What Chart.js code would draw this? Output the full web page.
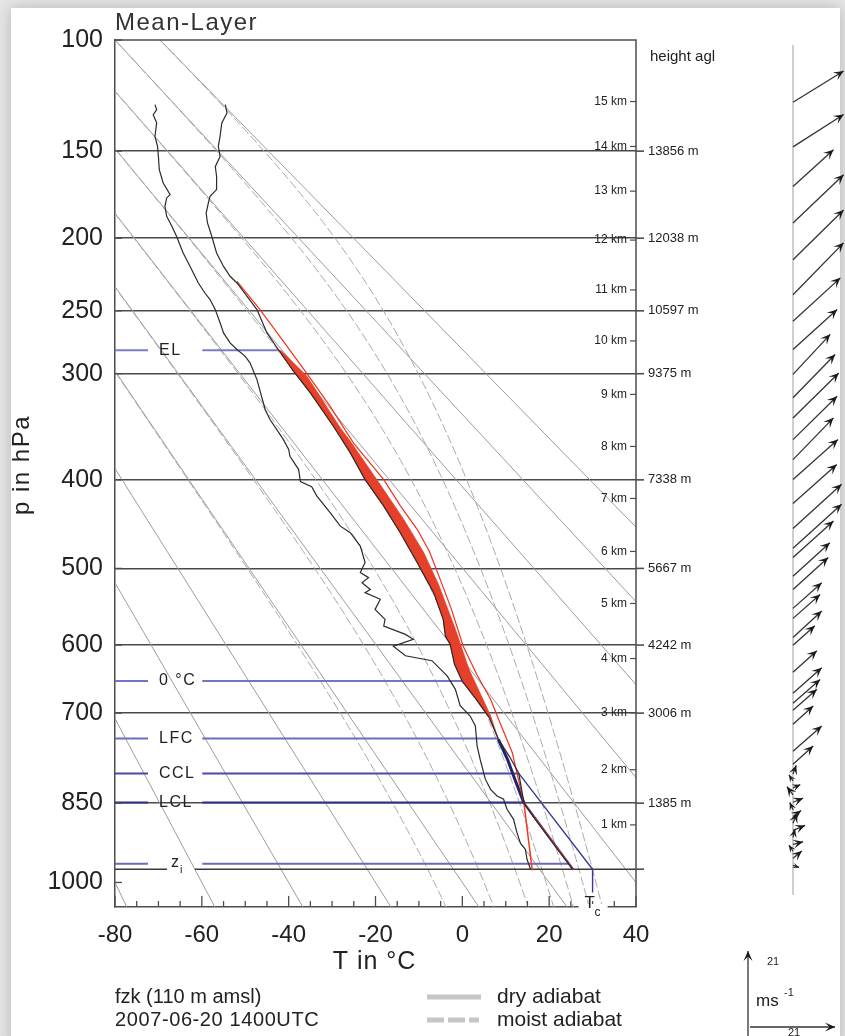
<!DOCTYPE html>
<html lang="en">
<head>
<meta charset="UTF-8">
<title>Mean-Layer fzk 2007-06-20 1400 UTC</title>
<script src="https://cdn.jsdelivr.net/npm/chart.js"></script>
<style>
    html, body { margin: 0; padding: 0; background: #e6e6e6; overflow: hidden; }
    .sheet {
        position: absolute; left: 11px; top: 8px; width: 829px; height: 1040px;
        background: #fff; box-shadow: 0 0 14px rgba(0, 0, 0, 0.22);
    }
    #stueve { position: absolute; left: 0; top: 0; }
</style>
</head>
<body>
<div class="sheet"></div>
<canvas id="stueve" width="845" height="1036"></canvas>
<script>
    const KAPPA = 0.286;

    // axes
    const pressureTicks = [100, 150, 200, 250, 300, 400, 500, 600, 700, 850, 1000];
    const tempMin = -80, tempMax = 40, pTop = 100, pBottom = 1050;

    // background: dry adiabats and pseudo-adiabats, labelled by theta at 100 hPa (°C)
    const dryTheta = [-80, -60, -40, -20, 0, 20, 40, 60, 80, 100, 120];
    const moistTheta = [0, 20, 40, 60, 80, 100, 120];

    // sounding: temperature
    const envP = [127.3, 131.2, 135.9, 142.5, 147.5, 152.8, 158.2, 163.4, 170.8, 174.7, 178.5, 184.5, 190.5, 198.9, 209.5,
        218.5, 225.2, 229.9, 249.1, 266.8, 280.0, 297.9, 316.6, 346.9, 372.6, 399.7, 428.1, 457.8, 492.9, 530.2,
        565.0, 587.6, 599, 627, 652, 679, 707, 741.5, 769, 798, 850, 879.2, 911.6, 942.7, 973.7];
    const envT = [-54.6, -54.2, -55.4, -55.8, -56.2, -55.8, -56.9, -56.6, -56.6, -58.1, -58.5, -59.0, -58.7, -57.7, -56.6,
        -55.0, -53.5, -51.9, -47.3, -45.0, -42.4, -38.9, -35.0, -29.7, -25.8, -22.4, -18.1, -14.3, -10.4, -6.6,
        -4.4, -3.9, -2.8, -1.8, 0.0, 3.2, 6.2, 8.3, 10.8, 13.0, 14.2, 16.8, 19.8, 22.6, 25.4];

    // sounding: dew point
    const dewP = [127.3, 129.6, 132.0, 135.9, 142.5, 147.5, 152.8, 159.8, 167.1, 173.7, 175.6, 180.5, 186.5, 192.5, 198.9,
        209.5, 218.5, 229.9, 237.0, 241.7, 249.1, 259.0, 266.8, 274.7, 280.0, 285.5, 290.9, 305.0, 331.6, 340.7,
        359.7, 369.3, 376.0, 389.4, 401.8, 407.1, 417.2, 435.4, 450.3, 457.8, 473.2, 492.9, 505.1, 511.4, 517.7,
        526.2, 530.2, 538.7, 551.8, 565.0, 573.9, 585.3, 592.1, 601.7, 615.0, 622.0, 644.0, 663.8, 688.7, 704.5,
        720.1, 752.2, 774.3, 808.0, 825.6, 837.2, 843.0, 861.0, 879.2, 904.3, 923.9, 935.0, 954.4, 973.7];
    const dewT = [-70.8, -70.4, -71.2, -70.4, -70.8, -70.2, -70.0, -69.8, -68.9, -67.3, -68.1, -68.5, -68.1, -66.9, -65.8,
        -64.3, -62.7, -60.8, -59.3, -58.1, -56.9, -55.8, -55.0, -53.5, -51.9, -50.0, -48.9, -47.3, -45.4, -44.3,
        -41.2, -40.0, -39.7, -37.7, -37.3, -34.7, -33.5, -30.4, -28.1, -25.8, -23.5, -22.4, -23.5, -21.6, -23.1,
        -21.2, -22.4, -18.9, -20.1, -17.8, -18.1, -13.1, -11.3, -15.9, -13.1, -7.0, -3.5, -1.6, -0.5, 1.8,
        3.0, 3.4, 4.1, 5.3, 6.5, 8.0, 9.5, 10.3, 11.8, 12.6, 13.4, 14.5, 14.9, 15.7];

    // mean-layer parcel between EL and LFC (edge of the CAPE area)
    const parcelP = [280.0, 281.4, 302.1, 348.5, 361.3, 405.1, 442.8, 481.0, 519.8, 578.4, 634.0, 704.2, 741.5];
    const parcelT = [-42.4, -41.6, -35.8, -28.1, -25.8, -18.9, -13.5, -8.9, -5.5, -1.6, 1.5, 6.5, 8.3];

    // thin parcel curve from LCL upwards
    const ascentP = [228.8, 249.1, 272.1, 297.9, 328.8, 362.8, 399.7, 427.4, 453.9, 479.4, 513.5, 551.8, 601.7, 641.5,
        678.7, 720.6, 763.1, 808.0, 850];
    const ascentT = [-51.9, -46.6, -41.5, -36.2, -30.4, -25.1, -18.1, -14.3, -10.4, -7.6, -5.1, -2.5, 0.2, 3.3,
        6.5, 9.0, 11.5, 12.9, 14.2];

    // boundary layer construction lines
    const dryLclP = [850, 975], dryLclT = [14.2, 25.6];
    const mixLclP = [850, 976], mixLclT = [14.2, 16.1];
    const lfcLclP = [741.5, 774.3, 810.2, 850], lfcLclT = [8.3, 10.4, 12.2, 14.2];
    const cclP = [798.2, 973.7, 1020], cclT = [13.0, 30.0, 30.0];

    // levels
    const levelNames = ['EL', '0 °C', 'LFC', 'CCL', 'LCL', 'z_i'];
    const levelP = [280.5, 651.5, 740.4, 798.2, 849, 962.8];
    const levelEndT = [-42.4, 0.7, 8.3, 13.0, 14.2, 24.4];
    const surfaceP = 973.7;

    // heights above ground
    const kmLabels = [1, 2, 3, 4, 5, 6, 7, 8, 9, 10, 11, 12, 13, 14, 15];
    const kmP = [889.4, 791.9, 699.6, 618.9, 544.1, 479.6, 419.7, 366.3, 317.9, 273.1, 234.8, 201.2, 171.7, 147.6, 125.9];
    const stdP = [850, 700, 600, 500, 400, 300, 250, 200, 150];
    const stdHeight = [1385, 3006, 4242, 5667, 7338, 9375, 10597, 12038, 13856];

    // wind (m/s, u eastward, v northward)
    const windP = [126.2, 147.8, 169.1, 190.5, 214.0, 238.2, 257.8, 280.0, 300.6, 320.9, 339.2, 359.7, 379.3, 399.7, 425.1,
        452.9, 475.9, 486.7, 509.7, 526.1, 550.5, 563.7, 589.4, 600.3, 638.6, 669.8, 684.9, 695.7, 717.4, 760.9,
        782.7, 799.4, 811.1, 823.1, 835.2, 848.4, 861.7, 874.3, 886.4, 899.4, 912.5, 925.6, 938.9, 952.5, 966.2];
    const windU = [12.5, 12.5, 10.0, 12.5, 12.5, 12.5, 11.7, 10.9, 9.2, 10.4, 11.3, 10.9, 10.0, 11.1, 10.8,
        12.0, 12.0, 10.0, 9.1, 8.7, 7.1, 6.7, 7.1, 5.4, 5.9, 7.1, 6.7, 5.9, 5.0, 7.1,
        5.0, 0.8, -1.0, 1.8, -1.5, 2.5, -0.8, 2.0, 1.0, 3.0, 0.5, 2.5, -1.0, 2.2, 1.5];
    const windV = [7.7, 8.0, 9.1, 11.9, 12.3, 12.8, 10.7, 9.9, 9.9, 10.7, 11.1, 10.7, 10.3, 9.9, 9.6,
        10.9, 10.9, 9.0, 8.3, 7.9, 6.3, 5.9, 6.5, 4.8, 5.3, 6.3, 5.9, 5.2, 4.5, 6.2,
        4.5, 2.2, 1.5, 0.8, 2.0, 1.0, 1.8, 1.5, 2.5, 1.2, 2.0, 0.6, 1.5, 1.8, -0.5];
    const windRef = 21;

    // drawing constants
    const FONT = "'Liberation Sans', Arial, sans-serif";
    const GREY = '#9c9c9c';
    const FRAME = '#4d4d4d';
    const WIND_X = 793, PX_PER_MS = 4.05;
    const LABEL_GAP = [-72.4, -59.9];   // hole in the level lines for their names
    const ZI_GAP = [-68.0, -61.6];

    // pressure axis linear in p^kappa (Stüve)
    class PressureScale extends Chart.LinearScale {
        static id = 'pressure';
        static defaults = {};
        configure() {
            super.configure();
            this._startValue = Math.pow(this.min, KAPPA);
            this._valueRange = Math.pow(this.max, KAPPA) - this._startValue;
        }
        buildTicks() {
            return pressureTicks.map(v => ({ value: v }));
        }
        getPixelForValue(value) {
            if (value === null || value === undefined || isNaN(value)) return NaN;
            return this.getPixelForDecimal((Math.pow(value, KAPPA) - this._startValue) / this._valueRange);
        }
        getValueForPixel(pixel) {
            const d = this.getDecimalForPixel(pixel);
            return Math.pow(this._startValue + d * this._valueRange, 1 / KAPPA);
        }
    }
    Chart.register(PressureScale);

    const pts = (T, P) => T.map((t, i) => ({ x: t, y: P[i] }));

    // horizontal line with a gap for a label
    function gapLine(p, t0, t1, gap) {
        return [{ x: t0, y: p }, { x: gap[0], y: p }, { x: null, y: null }, { x: gap[1], y: p }, { x: t1, y: p }];
    }

    function dryAdiabat(thetaC) {
        return [pTop, pBottom].map(p => ({ x: (thetaC + 273.15) * Math.pow(p / 1000, KAPPA) - 273.15, y: p }));
    }

    const RD = 287.04, CP = 1005.7, LV = 2.501e6, EPS = 0.622;
    function dTdp(p, T) {
        const es = 6.112 * Math.exp(17.67 * (T - 273.15) / (T - 29.65));
        const rs = EPS * es / (p - es);
        return (RD * T + LV * rs) / (p * (CP + LV * LV * rs * EPS / (RD * T * T)));
    }
    function moistAdiabat(thetaC) {
        let p = pTop, T = (thetaC + 273.15) * Math.pow(p / 1000, KAPPA);
        const out = [{ x: T - 273.15, y: p }];
        const dp = 2;
        while (p < pBottom) {
            const k1 = dTdp(p, T);
            const k2 = dTdp(p + dp / 2, T + k1 * dp / 2);
            T += k2 * dp;
            p += dp;
            if (p % 10 === 0) out.push({ x: T - 273.15, y: p });
        }
        return out;
    }

    const lineDs = (data, color, width, extra) => Object.assign({
        data, borderColor: color, borderWidth: width, pointRadius: 0, fill: false, tension: 0, spanGaps: false
    }, extra || {});

    const datasets = [];
    dryTheta.forEach(th => datasets.push(lineDs(dryAdiabat(th), GREY, 1, { order: 90 })));
    moistTheta.forEach(th => datasets.push(lineDs(moistAdiabat(th), '#a9a9a9', 1, { order: 89, borderDash: [9, 3] })));

    const levelColors = ['#7b7bc6', '#7474c2', '#6c6cbd', '#4a4aa8', '#2e2e8c', '#6a6abc'];
    levelNames.forEach((n, i) => {
        datasets.push(lineDs(gapLine(levelP[i], tempMin, levelEndT[i], LABEL_GAP), levelColors[i], 2, { order: 60 }));
    });
    datasets.push(lineDs(gapLine(surfaceP, tempMin, tempMax, ZI_GAP), '#3a3a3a', 1.6, { order: 59 }));

    // CAPE area: environment from EL down to LFC, parcel back up
    const envSeg = pts(envT, envP).filter(d => d.y >= parcelP[0] && d.y <= parcelP[parcelP.length - 1]);
    const cape = envSeg.concat(pts(parcelT, parcelP).reverse());
    datasets.push(lineDs(cape, '#e6402b', 0.8, { order: 30, fill: 'shape', backgroundColor: '#e6402b' }));

    datasets.push(lineDs(pts(dryLclT, dryLclP), '#2a2a82', 2.2, { order: 40 }));
    datasets.push(lineDs(pts(cclT, cclP), '#3a3a96', 1.4, { order: 40 }));
    datasets.push(lineDs(pts(lfcLclT, lfcLclP), '#22226e', 3, { order: 25 }));
    datasets.push(lineDs(pts(ascentT, ascentP), '#f2301c', 1.2, { order: 20 }));
    datasets.push(lineDs(pts(dryLclT, dryLclP), '#ee3a22', 1.2, { order: 19 }));
    datasets.push(lineDs(pts(mixLclT, mixLclP), '#ee3a22', 1.5, { order: 19 }));
    datasets.push(lineDs(pts(dewT, dewP), '#2b2b2b', 1.2, { order: 10 }));
    datasets.push(lineDs(pts(envT, envP), '#2b2b2b', 1.2, { order: 9 }));

    function txt(ctx, s, x, y, size, align, color, spacing, base) {
        ctx.font = size + 'px ' + FONT;
        ctx.textAlign = align || 'left';
        ctx.textBaseline = base || 'middle';
        ctx.fillStyle = color || '#222';
        ctx.letterSpacing = spacing || '0px';
        ctx.fillText(s, x, y);
        ctx.letterSpacing = '0px';
    }

    function arrow(ctx, x0, y0, x1, y1, head) {
        const len = Math.hypot(x1 - x0, y1 - y0);
        if (len < 0.5) return;
        const a = Math.atan2(y1 - y0, x1 - x0), c = Math.cos(a), s = Math.sin(a);
        const h = Math.min(head, len);
        ctx.beginPath(); ctx.moveTo(x0, y0); ctx.lineTo(x1, y1); ctx.stroke();
        ctx.beginPath();
        ctx.moveTo(x1, y1);
        ctx.lineTo(x1 - h * c + h * 0.45 * s, y1 - h * s - h * 0.45 * c);
        ctx.lineTo(x1 - h * 0.55 * c, y1 - h * 0.55 * s);
        ctx.lineTo(x1 - h * c - h * 0.45 * s, y1 - h * s + h * 0.45 * c);
        ctx.closePath(); ctx.fill();
    }

    const decor = {
        id: 'stueveDecor',
        afterDraw(chart) {
            const { ctx, chartArea: a, scales: { x, y } } = chart;
            ctx.save();
            ctx.strokeStyle = FRAME;
            ctx.lineWidth = 1.5;
            ctx.beginPath();
            ctx.moveTo(a.left, a.top); ctx.lineTo(a.right, a.top); ctx.lineTo(a.right, a.bottom);
            ctx.stroke();

            // temperature ticks pointing inwards
            ctx.lineWidth = 1.3;
            for (let t = tempMin; t <= tempMax; t += 5) {
                const px = x.getPixelForValue(t), len = t % 20 === 0 ? 11 : 6;
                ctx.beginPath(); ctx.moveTo(px, a.bottom); ctx.lineTo(px, a.bottom - len); ctx.stroke();
            }
            pressureTicks.forEach(p => {
                const py = y.getPixelForValue(p);
                ctx.beginPath(); ctx.moveTo(a.left, py); ctx.lineTo(a.left + 7, py); ctx.stroke();
            });

            // std levels continue past the right axis
            ctx.lineWidth = 1.6;
            stdP.concat([surfaceP]).forEach(p => {
                const py = y.getPixelForValue(p);
                ctx.beginPath(); ctx.moveTo(a.right, py); ctx.lineTo(a.right + 8, py); ctx.stroke();
            });

            // height agl
            txt(ctx, 'height agl', 650, 57, 15, 'left', '#222');
            ctx.lineWidth = 1.2;
            kmLabels.forEach((k, i) => {
                const py = y.getPixelForValue(kmP[i]);
                ctx.beginPath(); ctx.moveTo(a.right - 6, py); ctx.lineTo(a.right, py); ctx.stroke();
                txt(ctx, k + ' km', a.right - 9, py, 12, 'right', '#222');
            });
            stdP.forEach((p, i) => {
                txt(ctx, stdHeight[i] + ' m', 648, y.getPixelForValue(p), 13, 'left', '#222');
            });

            // level names
            levelNames.forEach((n, i) => {
                const py = y.getPixelForValue(levelP[i]);
                if (n.includes('_')) {
                    const [b, sub] = n.split('_');
                    txt(ctx, b, 171, py - 1, 16, 'left', '#222');
                    txt(ctx, sub, 180, py + 6, 11, 'left', '#222');
                } else {
                    txt(ctx, n, 159, py, 16, 'left', '#222', '1.5px');
                }
            });

            // convective temperature
            const tcX = x.getPixelForValue(cclT[2]);
            ctx.fillStyle = '#fff';
            ctx.fillRect(tcX - 14, a.bottom - 3, 29, 6);
            txt(ctx, 'T', tcX - 8, a.bottom - 4, 17, 'left', '#222');
            txt(ctx, 'c', tcX + 2, a.bottom + 6, 12, 'left', '#222');

            // titles
            txt(ctx, 'Mean-Layer', 115, 30, 24, 'left', '#333', '1.5px', 'alphabetic');
            txt(ctx, 'T in °C', (a.left + a.right) / 2 - 1, 962, 25, 'center', '#222', '1px');
            ctx.save();
            ctx.translate(22, 465);
            ctx.rotate(-Math.PI / 2);
            txt(ctx, 'p in hPa', 0, 0, 24, 'center', '#222', '1.5px');
            ctx.restore();

            // legend
            txt(ctx, 'fzk (110 m amsl)', 115, 997, 20, 'left', '#222');
            txt(ctx, '2007-06-20 1400UTC', 115, 1020, 20, 'left', '#222', '0.6px');
            ctx.strokeStyle = '#c6c6c6';
            ctx.lineWidth = 5;
            ctx.beginPath(); ctx.moveTo(427, 997); ctx.lineTo(481, 997); ctx.stroke();
            ctx.setLineDash([17, 4]);
            ctx.beginPath(); ctx.moveTo(427, 1020); ctx.lineTo(479, 1020); ctx.stroke();
            ctx.setLineDash([]);
            txt(ctx, 'dry adiabat', 497, 997, 21, 'left', '#222');
            txt(ctx, 'moist adiabat', 497, 1020, 21, 'left', '#222');

            // wind profile
            ctx.strokeStyle = '#cfcfcf';
            ctx.lineWidth = 2;
            ctx.beginPath(); ctx.moveTo(WIND_X, 45); ctx.lineTo(WIND_X, 895); ctx.stroke();
            ctx.strokeStyle = '#333';
            ctx.fillStyle = '#1a1a1a';
            ctx.lineWidth = 1.3;
            windP.forEach((p, i) => {
                const y0 = y.getPixelForValue(p);
                arrow(ctx, WIND_X, y0, WIND_X + windU[i] * PX_PER_MS, y0 - windV[i] * PX_PER_MS, 10);
            });

            // wind scale
            const refLen = windRef * PX_PER_MS;
            arrow(ctx, 748, 1036, 748, 1036 - refLen, 10);
            arrow(ctx, 750, 1027, 750 + refLen, 1027, 10);
            txt(ctx, String(windRef), 767, 962, 11, 'left', '#222');
            txt(ctx, 'ms', 756, 1001, 17, 'left', '#222');
            txt(ctx, '-1', 784, 993, 11, 'left', '#222');
            txt(ctx, String(windRef), 788, 1036, 11, 'left', '#222', '0px', 'alphabetic');
            ctx.restore();
        }
    };

    new Chart(document.getElementById('stueve').getContext('2d'), {
        type: 'line',
        data: { datasets },
        options: {
            responsive: false,
            animation: false,
            devicePixelRatio: 1,
            events: [],
            layout: { padding: { top: 40, right: 209, left: 0, bottom: 0 } },
            plugins: { legend: { display: false }, tooltip: { enabled: false }, title: { display: false } },
            scales: {
                x: {
                    type: 'linear', min: tempMin, max: tempMax,
                    afterFit: s => { s.height = 129; },
                    grid: { display: false, drawTicks: false },
                    border: { display: true, color: FRAME, width: 1.5 },
                    ticks: { stepSize: 20, padding: 14, color: '#222', font: { family: FONT, size: 24 }, autoSkip: false, maxRotation: 0 }
                },
                y: {
                    type: 'pressure', min: pTop, max: pBottom, reverse: true,
                    afterFit: s => { s.width = 115; },
                    grid: {
                        drawTicks: false,
                        color: c => (c.tick && (c.tick.value === 1000 || c.tick.value === 100)) ? 'rgba(0,0,0,0)' : '#4a4a4a',
                        lineWidth: 1.6
                    },
                    border: { display: true, color: FRAME, width: 1.5 },
                    ticks: { padding: 12, color: '#222', font: { family: FONT, size: 25 }, autoSkip: false, callback: v => String(v) }
                }
            }
        },
        plugins: [decor]
    });
</script>
</body>
</html>
